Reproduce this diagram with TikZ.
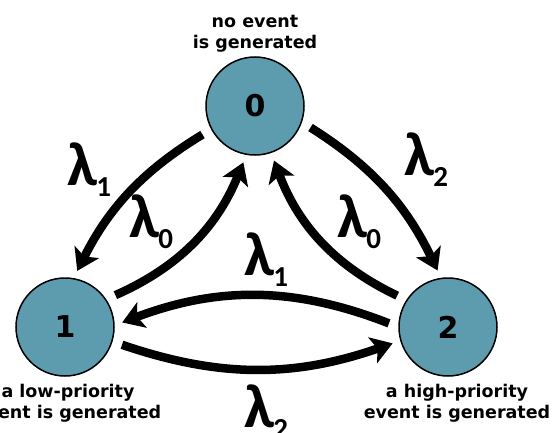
\documentclass[tikz,border=0pt]{standalone}
\usepackage{fontspec}
\setmainfont{DejaVu Sans}
\newfontfamily\lamfont{Carlito}
\usetikzlibrary{arrows.meta}
\definecolor{nodefill}{RGB}{93,155,175}
\newcommand{\lamsub}[1]{λ\kern-1pt\raisebox{-11pt}{\fontsize{29}{29}\selectfont #1}}
\begin{document}
\begin{tikzpicture}[x=1pt,y=-1pt,
  state/.style={circle,draw=black,line width=1.5pt,fill=nodefill,minimum size=98pt,inner sep=0pt,font=\bfseries\fontsize{30}{30}\selectfont},
  lbl/.style={align=center,inner sep=0pt,font=\bfseries\fontsize{17.5}{21}\selectfont},
  edge/.style={line width=8.5pt,-{Stealth[length=21pt,width=27pt,inset=5pt]},shorten <=10pt,shorten >=8pt},
  lam/.style={anchor=base west,inner sep=0pt,font=\lamfont\bfseries\fontsize{62}{62}\selectfont}]
\useasboundingbox (0,0) rectangle (556,433);
\clip (0,0) rectangle (556,433);
\node[state] (n0) at (255,106) {0};
\node[state] (n1) at (65,327) {1};
\node[state] (n2) at (448,327) {2};
\node[lbl,anchor=base] (t0) at (255,49) {no event\\is generated};
\node[lbl,anchor=base] (t1) at (68,418) {a low-priority\\event is generated};
\node[lbl,anchor=base] (t2) at (457,418) {a high-priority\\event is generated};
\draw[edge] (n0.208) to[bend right=16] (n1.80);
\draw[edge] (n1.34) to[bend right=22] (n0.-100);
\draw[edge] (n0.-19) to[bend left=16] (n2.98);
\draw[edge] (n2.147) to[bend left=22] (n0.-71);
\draw[edge] (n2.180) to[bend right=21] (n1.2);
\draw[edge] (n1.-17) to[bend right=19] (n2.196);
\node[lam] (la) at (67,185) {\lamsub{1}};
\node[lam] (lb) at (129,237) {\lamsub{0}};
\node[lam] (lc) at (404,175) {\lamsub{2}};
\node[lam] (ld) at (337,237) {\lamsub{0}};
\node[lam] (le) at (244,275) {\lamsub{1}};
\node[lam] (lf) at (244,427) {\lamsub{2}};
\end{tikzpicture}
\end{document}
